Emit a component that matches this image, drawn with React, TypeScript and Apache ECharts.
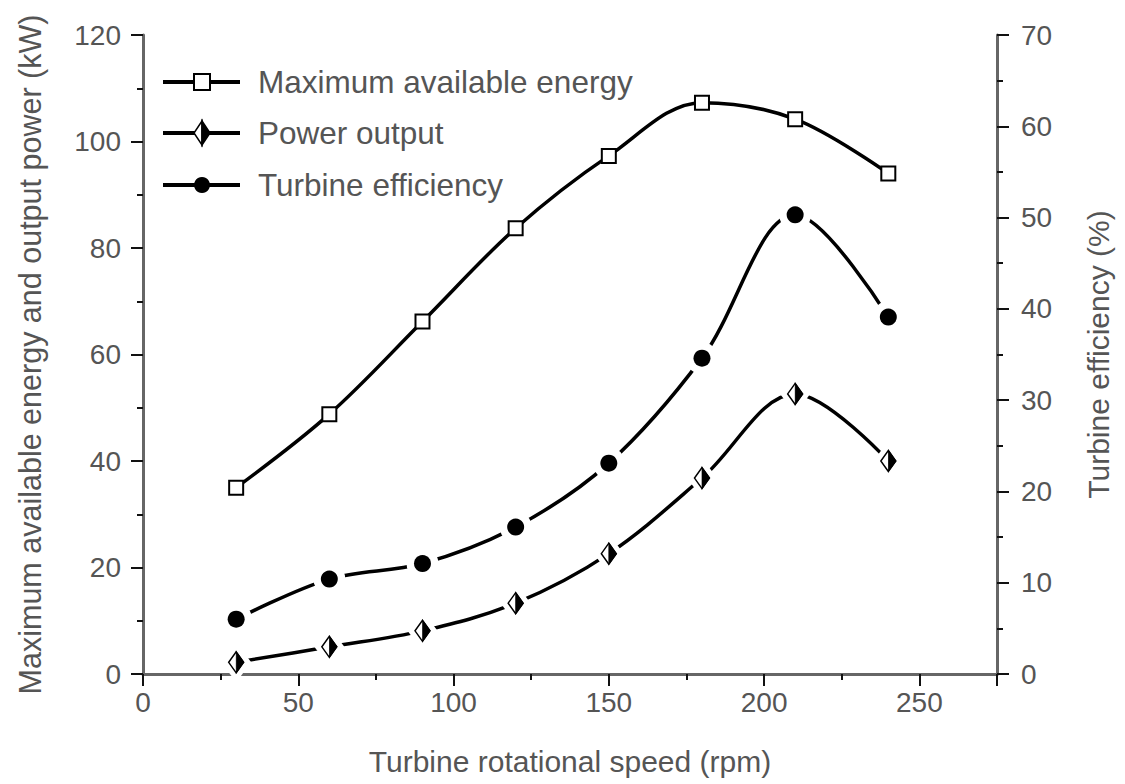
import React, { useEffect, useRef } from "react";
import * as echarts from "echarts";

const speeds = [30, 60, 90, 120, 150, 180, 210, 240];
const maxEnergy = [35, 48.8, 66.2, 83.7, 97.3, 107.3, 104.2, 94];
const powerOutput = [2.2, 5.1, 8.1, 13.3, 22.6, 36.8, 52.6, 40];
const efficiency = [6, 10.4, 12.1, 16.1, 23.1, 34.6, 50.3, 39.1];
const legendNames = ["Maximum available energy", "Power output", "Turbine efficiency"];

const FONT = "'Liberation Sans', Arial, Helvetica, sans-serif";
const TXT = "#555";
const AX = "#666";

const pair = (ys: number[]) => speeds.map((x, i) => [x, ys[i]]);

export default function App() {
  const ref = useRef<HTMLDivElement>(null);
  useEffect(() => {
    document.body.style.margin = "0";
    const chart = echarts.init(ref.current!, null, { renderer: "svg" });
    const lineStyle = { color: "#000", width: 3.5 };
    const lx0 = 163, lx1 = 240, lc = 202, ltx = 258;
    const ly = [82, 133, 185];
    const legendGraphics: any[] = [];
    ly.forEach((y, i) => {
      legendGraphics.push({
        type: "line",
        shape: { x1: lx0, y1: y, x2: lx1, y2: y },
        style: { stroke: "#000", lineWidth: 4 },
      });
      legendGraphics.push({
        type: "text",
        x: ltx,
        y: y,
        style: {
          text: legendNames[i],
          font: `31.5px ${FONT}`,
          fill: TXT,
          verticalAlign: "middle",
          align: "left",
        },
      });
    });
    legendGraphics.push({
      type: "rect",
      shape: { x: lc - 8, y: ly[0] - 8, width: 16, height: 16 },
      style: { fill: "#fff", stroke: "#000", lineWidth: 2 },
    });
    legendGraphics.push({
      type: "polygon",
      shape: { points: [[lc, ly[1] - 12], [lc - 8, ly[1]], [lc, ly[1] + 12]] },
      style: { fill: "#fff", stroke: "#000", lineWidth: 1.5 },
    });
    legendGraphics.push({
      type: "polygon",
      shape: { points: [[lc, ly[1] - 12], [lc + 8, ly[1]], [lc, ly[1] + 12]] },
      style: { fill: "#000", stroke: "#000", lineWidth: 1.5 },
    });
    legendGraphics.push({
      type: "circle",
      shape: { cx: lc, cy: ly[2], r: 8 },
      style: { fill: "#000" },
    });

    const tick = { show: true, length: 12, lineStyle: { color: "#111", width: 2 } };
    const minor = { show: true, splitNumber: 2, length: 6, lineStyle: { color: "#111", width: 2 } };

    chart.setOption({
      animation: false,
      backgroundColor: "#fff",
      textStyle: { fontFamily: FONT },
      grid: { left: 143, right: 128, top: 35, bottom: 110 },
      xAxis: {
        type: "value",
        min: 0,
        max: 275,
        interval: 50,
        name: "Turbine rotational speed (rpm)",
        nameLocation: "middle",
        nameGap: 72,
        nameTextStyle: { fontSize: 30, color: TXT, fontFamily: FONT },
        axisLine: { show: true, lineStyle: { color: AX, width: 3 } },
        axisTick: tick,
        minorTick: minor,
        axisLabel: { fontSize: 28, color: TXT, margin: 14, showMaxLabel: false, fontFamily: FONT },
        splitLine: { show: false },
        minorSplitLine: { show: false },
      },
      yAxis: [
        {
          type: "value",
          min: 0,
          max: 120,
          interval: 20,
          name: "Maximum available energy and output power (kW)",
          nameLocation: "middle",
          nameGap: 98,
          nameTextStyle: { fontSize: 30.5, color: TXT, fontFamily: FONT },
          axisLine: { show: true, lineStyle: { color: AX, width: 3 } },
          axisTick: tick,
          minorTick: minor,
          axisLabel: { fontSize: 28, color: TXT, margin: 22, fontFamily: FONT },
          splitLine: { show: false },
        },
        {
          type: "value",
          position: "right",
          min: 0,
          max: 70,
          interval: 10,
          name: "Turbine efficiency (%)",
          nameLocation: "middle",
          nameRotate: 90,
          nameGap: 86,
          nameTextStyle: { fontSize: 30, color: TXT, fontFamily: FONT },
          axisLine: { show: true, lineStyle: { color: AX, width: 3 } },
          axisTick: tick,
          minorTick: minor,
          axisLabel: { fontSize: 28, color: TXT, margin: 24, fontFamily: FONT },
          splitLine: { show: false },
        },
      ],
      graphic: legendGraphics,
      series: [
        {
          name: legendNames[0],
          type: "line",
          data: pair(maxEnergy),
          smooth: 0.35,
          symbol: "none",
          lineStyle,
          z: 2,
        },
        {
          name: legendNames[1],
          type: "line",
          data: pair(powerOutput),
          smooth: 0.35,
          symbol: "none",
          lineStyle,
          z: 2,
        },
        {
          name: legendNames[2],
          type: "line",
          yAxisIndex: 1,
          data: pair(efficiency),
          smooth: 0.35,
          symbol: "none",
          lineStyle,
          z: 2,
        },
        {
          name: legendNames[1] + " halo",
          type: "scatter",
          data: pair(powerOutput),
          symbol: "diamond",
          symbolSize: [30, 40],
          itemStyle: { color: "#fff", opacity: 1 },
          z: 3,
        },
        {
          name: legendNames[2] + " halo",
          type: "scatter",
          yAxisIndex: 1,
          data: pair(efficiency),
          symbol: "circle",
          symbolSize: 32,
          itemStyle: { color: "#fff", opacity: 1 },
          z: 3,
        },
        {
          name: legendNames[0] + " marker",
          type: "scatter",
          data: pair(maxEnergy),
          symbol: "rect",
          symbolSize: 14,
          itemStyle: { color: "#fff", borderColor: "#000", borderWidth: 2, opacity: 1 },
          z: 5,
        },
        {
          name: legendNames[1] + " marker",
          type: "scatter",
          data: pair(powerOutput),
          symbol: "diamond",
          symbolSize: [15, 21],
          itemStyle: { color: "#fff", borderColor: "#000", borderWidth: 1.5, opacity: 1 },
          z: 5,
        },
        {
          name: legendNames[1] + " half",
          type: "scatter",
          data: pair(powerOutput),
          symbol: "path://M0,0 L10,10 L0,20 Z",
          symbolSize: [7.5, 21],
          symbolOffset: [3.75, 0],
          itemStyle: { color: "#000", borderColor: "#000", borderWidth: 1, opacity: 1 },
          z: 6,
        },
        {
          name: legendNames[2] + " marker",
          type: "scatter",
          yAxisIndex: 1,
          data: pair(efficiency),
          symbol: "circle",
          symbolSize: 17,
          itemStyle: { color: "#000", opacity: 1 },
          z: 5,
        },
      ],
    });
    return () => chart.dispose();
  }, []);
  return <div ref={ref} style={{ width: 1125, height: 784 }} />;
}
